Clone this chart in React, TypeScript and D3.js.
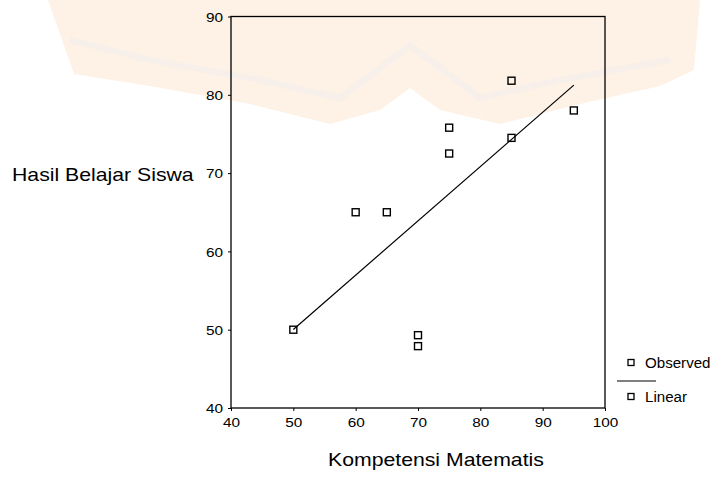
import React, { useEffect, useRef } from 'react';
import * as d3 from 'd3';

// Kompetensi Matematis (x) vs Hasil Belajar Siswa (y)
const kompetensi = [50, 60, 65, 70, 70, 75, 75, 85, 85, 95];
const hasilBelajar = [50, 65, 65, 49.3, 47.9, 75.8, 72.5, 81.8, 74.5, 78];
const xTicks = [40, 50, 60, 70, 80, 90, 100];
const yTicks = [40, 50, 60, 70, 80, 90];
const legendLabels = ['Observed', 'Linear'];

const App = () => {
  const ref = useRef<SVGSVGElement>(null);

  useEffect(() => {
    const svg = d3.select(ref.current);
    svg.selectAll('*').remove();

    const font = 'Liberation Sans, Arial, sans-serif';

    // faint watermark in the background
    const wm = svg.append('g');
    wm.append('path')
      .attr('d', 'M48,0 L700,0 L694,70 L660,86 L580,104 L500,124 L440,110 L410,88 L380,110 L330,124 L250,104 L150,86 L74,74 Z')
      .attr('fill', '#fef1e6');
    wm.append('path')
      .attr('d', 'M70,40 L150,60 L260,80 L340,98 L410,45 L480,98 L560,80 L670,60')
      .attr('fill', 'none')
      .attr('stroke', '#f6efea')
      .attr('stroke-width', 6);

    const x = d3.scaleLinear().domain([40, 100]).range([231, 605]);
    const y = d3.scaleLinear().domain([40, 90]).range([408, 16.5]);

    // frame
    svg.append('rect')
      .attr('x', x(40))
      .attr('y', y(90))
      .attr('width', x(100) - x(40))
      .attr('height', y(40) - y(90))
      .attr('fill', 'none')
      .attr('stroke', '#000')
      .attr('stroke-width', 1.3);

    // y axis
    const yAxis = svg.append('g')
      .attr('transform', `translate(${x(40)},0)`)
      .call(d3.axisLeft(y).tickValues(yTicks).tickSize(3).tickPadding(0).tickFormat(d3.format('d')));
    yAxis.select('.domain').remove();
    yAxis.selectAll('line').attr('stroke', '#000');
    yAxis.selectAll('text')
      .attr('x', null)
      .attr('dy', null)
      .attr('text-anchor', 'end')
      .attr('transform', 'translate(-8,4.7) scale(1.18,1)')
      .style('font-family', font)
      .style('font-size', '13px')
      .attr('fill', '#000');

    // x axis
    const xAxis = svg.append('g')
      .attr('transform', `translate(0,${y(40)})`)
      .call(d3.axisBottom(x).tickValues(xTicks).tickSize(3).tickPadding(0).tickFormat(d3.format('d')));
    xAxis.select('.domain').remove();
    xAxis.selectAll('line').attr('stroke', '#000');
    xAxis.selectAll('text')
      .attr('y', null)
      .attr('dy', null)
      .attr('transform', 'translate(0,19) scale(1.18,1)')
      .style('font-family', font)
      .style('font-size', '13px')
      .attr('fill', '#000');

    // least squares fit line
    const mx = d3.mean(kompetensi) as number;
    const my = d3.mean(hasilBelajar) as number;
    const sxy = d3.sum(kompetensi, (v, i) => (v - mx) * (hasilBelajar[i] - my));
    const sxx = d3.sum(kompetensi, v => (v - mx) * (v - mx));
    const slope = sxy / sxx;
    const fit = (v: number) => my + slope * (v - mx);
    const ends = d3.extent(kompetensi) as [number, number];

    svg.append('path')
      .datum(ends)
      .attr('d', d3.line<number>().x(d => x(d)).y(d => y(fit(d))))
      .attr('fill', 'none')
      .attr('stroke', '#000')
      .attr('stroke-width', 1.2);

    // observed points
    const s = 7;
    svg.selectAll('.pt')
      .data(kompetensi)
      .enter()
      .append('rect')
      .attr('class', 'pt')
      .attr('x', d => x(d) - s / 2)
      .attr('y', (d, i) => y(hasilBelajar[i]) - s / 2)
      .attr('width', s)
      .attr('height', s)
      .attr('fill', 'none')
      .attr('stroke', '#000')
      .attr('stroke-width', 1.4);

    // axis titles
    svg.append('text')
      .attr('transform', 'translate(12,181) scale(1.18,1)')
      .style('font-family', font)
      .style('font-size', '18px')
      .text('Hasil Belajar Siswa');
    svg.append('text')
      .attr('transform', 'translate(328,466) scale(1.18,1)')
      .style('font-family', font)
      .style('font-size', '18px')
      .text('Kompetensi Matematis');

    // legend
    const legY = [362.5, 396.5];
    const leg = svg.append('g');
    leg.selectAll('rect')
      .data(legendLabels)
      .enter()
      .append('rect')
      .attr('x', 631 - 3)
      .attr('y', (d, i) => legY[i] - 3)
      .attr('width', 6)
      .attr('height', 6)
      .attr('fill', 'none')
      .attr('stroke', '#000')
      .attr('stroke-width', 1.3);
    leg.selectAll('text')
      .data(legendLabels)
      .enter()
      .append('text')
      .attr('transform', (d, i) => `translate(645,${legY[i] + 5.5}) scale(1.08,1)`)
      .style('font-family', font)
      .style('font-size', '14px')
      .text(d => d);
    leg.append('line')
      .attr('x1', 617)
      .attr('x2', 656)
      .attr('y1', 381)
      .attr('y2', 381)
      .attr('stroke', '#000')
      .attr('stroke-width', 1.2);
  }, []);

  return (
    <svg ref={ref} width={715} height={477}
      style={{ position: 'absolute', left: 0, top: 0, background: '#fff' }}></svg>
  );
};

export default App;
